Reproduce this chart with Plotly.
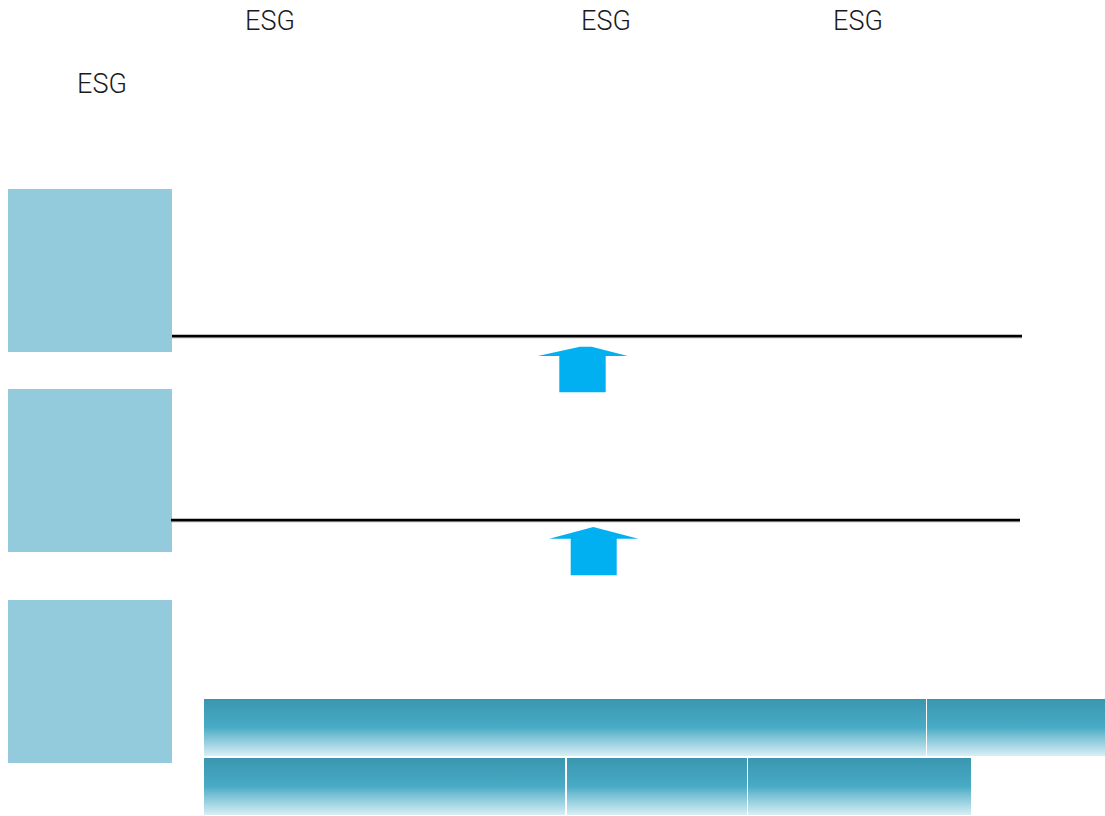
import plotly.graph_objects as go

W, H = 1105, 816

# Text labels
label_text = ["ESG", "ESG", "ESG", "ESG"]
label_x = [270, 606, 858, 102]
label_y = [23, 23, 23, 86]

# Left panels (x0, x1, y0, y1)
panel_x0 = [8, 8, 8]
panel_x1 = [172, 172, 172]
panel_y0 = [189, 389, 600]
panel_y1 = [352, 552, 763]

# Horizontal rules
rule_x0 = [172, 171]
rule_x1 = [1022, 1020]
rule_y = [336, 520]

# Up arrows
arrow_wl = [537.7, 549.3]
arrow_tl = [580.0, 593.3]
arrow_tr = [591.7, 593.3]
arrow_wr = [627.7, 638.3]
arrow_sl = [559.3, 570.7]
arrow_sr = [605.7, 616.7]
arrow_tip = [346.7, 527.0]
arrow_wing = [356.0, 538.7]
arrow_bot = [392.3, 575.3]

# Gradient boxes (x0, x1, y0, y1)
box_x0 = [204, 927, 204, 567, 748]
box_x1 = [926, 1105, 565, 747, 971]
box_y0 = [699, 699, 758, 758, 758]
box_y1 = [756, 756, 815, 815, 815]

fig = go.Figure()

for x0, x1, y0, y1 in zip(panel_x0, panel_x1, panel_y0, panel_y1):
    fig.add_trace(go.Scatter(
        x=[x0, x1, x1, x0, x0], y=[y0, y0, y1, y1, y0],
        mode="lines", fill="toself", fillcolor="#94CBDC",
        line=dict(width=0, color="#94CBDC"), hoverinfo="skip"))

for x0, x1, y in zip(rule_x0, rule_x1, rule_y):
    fig.add_trace(go.Scatter(x=[x0, x1], y=[y + 1.2, y + 1.2], mode="lines",
                             line=dict(color="#9a9a9a", width=2), hoverinfo="skip"))
    fig.add_trace(go.Scatter(x=[x0, x1], y=[y, y], mode="lines",
                             line=dict(color="#000000", width=2.3), hoverinfo="skip"))

for i in range(len(arrow_tip)):
    xs = [arrow_sl[i], arrow_sl[i], arrow_wl[i], arrow_tl[i], arrow_tr[i],
          arrow_wr[i], arrow_sr[i], arrow_sr[i], arrow_sl[i]]
    ys = [arrow_bot[i], arrow_wing[i], arrow_wing[i], arrow_tip[i], arrow_tip[i],
          arrow_wing[i], arrow_wing[i], arrow_bot[i], arrow_bot[i]]
    fig.add_trace(go.Scatter(x=xs, y=ys, mode="lines", fill="toself",
                             fillcolor="#00B0F0", line=dict(width=0, color="#00B0F0"),
                             hoverinfo="skip"))

grad = [[0.0, "#3A96AF"], [0.5, "#49ABC6"], [0.62, "#70BCD1"], [1.0, "#D8EFF5"]]
for x0, x1, y0, y1 in zip(box_x0, box_x1, box_y0, box_y1):
    fig.add_trace(go.Scatter(
        x=[x0, x1, x1, x0, x0], y=[y0, y0, y1, y1, y0],
        mode="lines", fill="toself",
        fillgradient=dict(type="vertical", colorscale=grad, start=y0, stop=y1),
        line=dict(width=0, color="rgba(0,0,0,0)"), hoverinfo="skip"))

fig.add_trace(go.Scatter(
    x=label_x, y=label_y, mode="text", text=label_text,
    textposition="middle center",
    textfont=dict(family="Roboto, sans-serif", size=27, color="#1a1a1a", weight=300),
    hoverinfo="skip"))

fig.update_layout(
    width=W, height=H,
    margin=dict(l=0, r=0, t=0, b=0),
    paper_bgcolor="white", plot_bgcolor="white",
    showlegend=False, hovermode=False,
    xaxis=dict(range=[0, W], visible=False, fixedrange=True),
    yaxis=dict(range=[H, 0], visible=False, fixedrange=True),
)

fig.write_html("out.html", config={"displayModeBar": False},
               post_script="document.body.style.margin='0';document.body.style.overflow='hidden';")
